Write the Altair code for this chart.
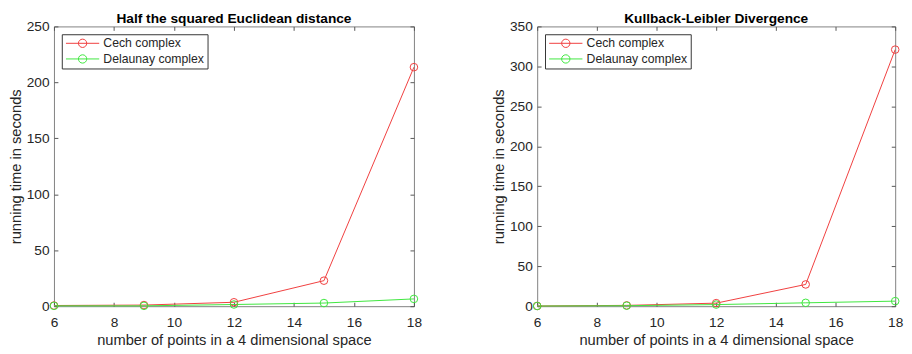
import altair as alt
import pandas as pd

# ---- data ----
x_points = [6, 9, 12, 15, 18]
series_names = ["Cech complex", "Delaunay complex"]
euclid_cech = [0.6, 1.0, 3.5, 22.8, 213.6]
euclid_delaunay = [0.3, 0.3, 1.5, 2.8, 6.5]
kl_cech = [0.3, 1.0, 3.8, 27.2, 321.0]
kl_delaunay = [0.2, 0.6, 2.0, 4.2, 6.3]
panel_titles = ["Half the squared Euclidean distance", "Kullback-Leibler Divergence"]
y_max = [250, 350]
x_ticks = [6, 8, 10, 12, 14, 16, 18]
x_title = "number of points in a 4 dimensional space"
y_title = "running time in seconds"

# ---- style ----
colors = ["#f03c3c", "#3ce63c"]
FONT = "Liberation Sans"
TEXT = "#262626"
# legend symbol: short line with an open circle (MATLAB style)
LEGEND_SYMBOL = ("M-1,0L5.8,0M3.25,0A0.85,0.85,0,1,1,1.55,0"
                 "A0.85,0.85,0,1,1,3.25,0")


def panel(cech, dela, title, ymax, width, height):
    df = pd.DataFrame({
        "n": x_points * 2,
        "t": cech + dela,
        "s": [series_names[0]] * len(x_points) + [series_names[1]] * len(x_points),
    })
    xs = alt.Scale(domain=[x_points[0], x_points[-1]], nice=False, zero=False)
    ys = alt.Scale(domain=[0, ymax], nice=False)
    y_vals = list(range(0, ymax + 1, 50))

    color = alt.Color(
        "s:N",
        scale=alt.Scale(domain=series_names, range=colors),
        legend=alt.Legend(
            title=None, orient="top-left", offset=8,
            symbolType=LEGEND_SYMBOL, symbolSize=100,
            symbolStrokeWidth=1, symbolFillColor="transparent",
            labelOffset=27, labelFont=FONT, labelFontSize=12.5, labelColor=TEXT,
            padding=3, rowPadding=2,
            strokeColor="#333333", fillColor="white",
        ),
    )
    main = alt.Chart(df).mark_line(
        strokeWidth=1,
        point=alt.OverlayMarkDef(filled=False, size=60, strokeWidth=1),
    ).encode(
        x=alt.X("n:Q", scale=xs, axis=alt.Axis(
            values=x_ticks, title=x_title, orient="bottom", offset=-4,
            tickSize=4, labelPadding=10, titlePadding=3, labelFlush=False,
            domain=False, grid=False)),
        y=alt.Y("t:Q", scale=ys, axis=alt.Axis(
            values=y_vals, title=y_title, orient="left", offset=-4,
            tickSize=4, labelPadding=5, titlePadding=3, labelFlush=False,
            domain=False, grid=False)),
        color=color,
        order=alt.Order("n:Q"),
    )
    ticks = alt.Chart(df).mark_point(opacity=0).encode(
        x=alt.X("n:Q", scale=xs, axis=alt.Axis(
            values=x_ticks, orient="top", labels=False, title=None, offset=-4,
            tickSize=4, domain=False, grid=False)),
        y=alt.Y("t:Q", scale=ys, axis=alt.Axis(
            values=y_vals, orient="right", labels=False, title=None, offset=-4,
            tickSize=4, domain=False, grid=False)),
    )
    return alt.layer(main, ticks).resolve_axis(
        x="independent", y="independent"
    ).properties(
        width=width, height=height,
        title=alt.Title(title, fontSize=14, fontWeight="bold", font=FONT,
                        color="black", offset=-7, anchor="middle"),
    )


left = panel(euclid_cech, euclid_delaunay, panel_titles[0], y_max[0], 368, 286)
right = panel(kl_cech, kl_delaunay, panel_titles[1], y_max[1], 366, 286)

chart = alt.hconcat(left, right, spacing=70).resolve_scale(
    color="independent", x="independent", y="independent"
).resolve_legend(color="independent").properties(
    padding=0, background="white"
).configure_view(
    stroke="#808080", strokeWidth=1
).configure_axis(
    labelFont=FONT, labelFontSize=14, labelColor=TEXT,
    titleFont=FONT, titleFontSize=15, titleFontWeight="normal", titleColor=TEXT,
    tickColor="#555555", tickWidth=1,
)

chart.save("out.html", embed_options={"renderer": "svg", "actions": False})
